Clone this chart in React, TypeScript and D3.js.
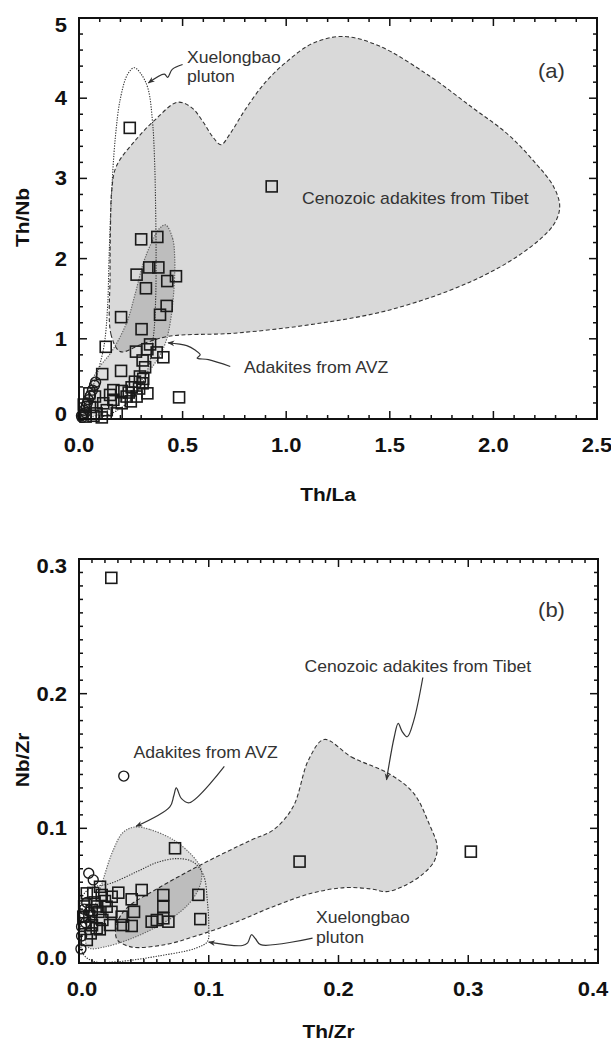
import { useEffect, useRef } from 'react';
import * as d3 from 'd3';

type Pt = [number, number];

// ---------- panel (a): Th/La vs Th/Nb ----------
const aXTicks = [0, 0.5, 1, 1.5, 2, 2.5];
const aYTicks = [0, 1, 2, 3, 4, 5];

// samples of this study (squares)
const aSquares: Pt[] = [
    [0.245, 3.63], [0.93, 2.9], [0.3, 2.24], [0.378, 2.27], [0.278, 1.8], [0.339, 1.89],
    [0.383, 1.89], [0.426, 1.72], [0.468, 1.78], [0.323, 1.63], [0.423, 1.41], [0.391, 1.3],
    [0.203, 1.27], [0.302, 1.12], [0.129, 0.9], [0.343, 0.93], [0.275, 0.84], [0.33, 0.87],
    [0.407, 0.77], [0.375, 0.83], [0.307, 0.73], [0.319, 0.645], [0.203, 0.6], [0.112, 0.56],
    [0.294, 0.53], [0.483, 0.27], [0.33, 0.32], [0.27, 0.465], [0.307, 0.445], [0.254, 0.395],
    [0.166, 0.36], [0.206, 0.35], [0.29, 0.38], [0.23, 0.28], [0.278, 0.28], [0.166, 0.24],
    [0.206, 0.196], [0.117, 0.196], [0.077, 0.28], [0.134, 0.11], [0.182, 0.07], [0.085, 0.07],
    [0.053, 0.15], [0.25, 0.22], [0.05, 0.32], [0.023, 0.18], [0.07, 0.04], [0.032, 0.03],
    [0.11, 0.02], [0.15, 0.3], [0.24, 0.33], [0.31, 0.5],
];
// Xuelongbao pluton (circles)
const aCircles: Pt[] = [
    [0.012, 0.04], [0.02, 0.07], [0.025, 0.11], [0.035, 0.16], [0.045, 0.24], [0.055, 0.29],
    [0.065, 0.36], [0.075, 0.42], [0.08, 0.46], [0.015, 0.02], [0.04, 0.2], [0.03, 0.08],
];
const aTibetField: Pt[] = [
    [0.2, 0.84], [0.155, 1.05], [0.15, 1.8], [0.152, 2.4], [0.158, 2.85], [0.18, 3.15],
    [0.277, 3.49], [0.371, 3.74], [0.475, 3.95], [0.545, 3.88], [0.6, 3.7], [0.645, 3.52],
    [0.685, 3.42], [0.73, 3.56], [0.8, 3.85], [0.9, 4.2], [1.0, 4.45], [1.125, 4.68],
    [1.275, 4.77], [1.45, 4.65], [1.69, 4.28], [1.9, 3.88], [2.07, 3.55], [2.2, 3.2],
    [2.29, 2.9], [2.32, 2.65], [2.29, 2.42], [2.14, 2.07], [1.88, 1.7], [1.5, 1.36],
    [1.125, 1.18], [0.75, 1.07], [0.43, 1.03], [0.3, 0.93],
];
const aAvzField: Pt[] = [
    [0.418, 2.42], [0.452, 2.25], [0.462, 2.0], [0.46, 1.7], [0.446, 1.3], [0.42, 0.97],
    [0.38, 0.75], [0.3, 0.48], [0.2, 0.22], [0.12, 0.08], [0.06, 0.025], [0.02, 0.012],
    [0.006, 0.05], [0.02, 0.22], [0.05, 0.42], [0.1, 0.65], [0.16, 0.85], [0.23, 1.2],
    [0.27, 1.55], [0.31, 1.94], [0.35, 2.2], [0.39, 2.38],
];
const aXuelongbaoField: Pt[] = [
    [0.02, 0.02], [0.04, 0.22], [0.08, 0.5], [0.12, 0.9], [0.138, 1.4], [0.145, 2.0],
    [0.155, 2.7], [0.175, 3.5], [0.2, 4.0], [0.235, 4.3], [0.267, 4.38], [0.3, 4.3],
    [0.333, 4.12], [0.355, 3.7], [0.365, 3.2], [0.37, 2.6], [0.372, 2.0], [0.37, 1.5],
    [0.36, 1.05], [0.33, 0.6], [0.27, 0.3], [0.18, 0.1], [0.1, 0.02], [0.05, 0.005],
];
const aArrows: Pt[][] = [
    [[0.5, 4.42], [0.45, 4.36], [0.428, 4.26], [0.412, 4.3], [0.335, 4.19]],
    [[0.73, 0.655], [0.625, 0.74], [0.57, 0.76], [0.585, 0.8], [0.56, 0.86], [0.52, 0.915], [0.43, 0.95]],
];
const aLabels = [
    { text: 'Xuelongbao', x: 0.521, y: 4.44, size: 16 },
    { text: 'pluton', x: 0.521, y: 4.2, size: 16 },
    { text: 'Cenozoic adakites from Tibet', x: 1.076, y: 2.68, size: 16 },
    { text: 'Adakites from AVZ', x: 0.796, y: 0.574, size: 16 },
    { text: '(a)', x: 2.215, y: 4.25, size: 20 },
];

// ---------- panel (b): Th/Zr vs Nb/Zr ----------
const bXTicks = [0, 0.1, 0.2, 0.3, 0.4];
const bYTicks = [0, 0.1, 0.2, 0.3];

const bSquares: Pt[] = [
    [0.0249, 0.286], [0.074, 0.0852], [0.17, 0.0753], [0.302, 0.0827], [0.092, 0.0506],
    [0.0935, 0.0326], [0.0483, 0.0542], [0.065, 0.0505], [0.0406, 0.0473], [0.0303, 0.0522],
    [0.0162, 0.0566], [0.065, 0.0418], [0.0424, 0.038], [0.0329, 0.0344], [0.0252, 0.0492],
    [0.0213, 0.0418], [0.06, 0.0319], [0.065, 0.0332], [0.0689, 0.0307], [0.056, 0.0307],
    [0.0406, 0.0275], [0.034, 0.0282], [0.0239, 0.0282], [0.0136, 0.0258], [0.006, 0.0171],
    [0.0046, 0.0295], [0.0033, 0.0344], [0.0098, 0.0393], [0.0175, 0.0505], [0.006, 0.0517],
    [0.012, 0.045], [0.015, 0.038], [0.008, 0.035], [0.018, 0.032], [0.01, 0.028],
    [0.014, 0.042], [0.02, 0.046], [0.004, 0.042], [0.011, 0.052], [0.025, 0.038],
    [0.009, 0.022], [0.016, 0.025],
];
const bCircles: Pt[] = [
    [0.0345, 0.1388], [0.0075, 0.0667], [0.011, 0.0617], [0.0015, 0.0105], [0.003, 0.0346],
    [0.002, 0.027], [0.004, 0.04], [0.006, 0.045], [0.002, 0.02], [0.008, 0.038], [0.005, 0.03],
];
const bTibetField: Pt[] = [
    [0.189, 0.166], [0.21, 0.153], [0.24, 0.14], [0.258, 0.126], [0.27, 0.103], [0.276, 0.087],
    [0.274, 0.076], [0.265, 0.066], [0.25, 0.057], [0.237, 0.053], [0.225, 0.055], [0.205, 0.056],
    [0.18, 0.052], [0.15, 0.042], [0.12, 0.03], [0.09, 0.02], [0.066, 0.0136], [0.04, 0.012],
    [0.029, 0.018], [0.03, 0.031], [0.037, 0.041], [0.06, 0.055], [0.096, 0.074], [0.132, 0.091],
    [0.15, 0.099], [0.165, 0.116], [0.177, 0.151],
];
const bAvzField: Pt[] = [
    [0.043, 0.101], [0.055, 0.099], [0.073, 0.0913], [0.088, 0.079], [0.094, 0.07], [0.094, 0.06],
    [0.088, 0.048], [0.078, 0.038], [0.06, 0.027], [0.04, 0.018], [0.02, 0.012], [0.008, 0.011],
    [0.005, 0.016], [0.01, 0.035], [0.018, 0.06], [0.026, 0.083], [0.034, 0.097],
];
const bXuelongbaoField: Pt[] = [
    [0.003, 0.05], [0.01, 0.056], [0.024, 0.059], [0.045, 0.068], [0.06, 0.0746], [0.075, 0.0775],
    [0.088, 0.075], [0.096, 0.065], [0.099, 0.045], [0.1, 0.028], [0.099, 0.016], [0.09, 0.011],
    [0.06, 0.005], [0.03, 0.001], [0.012, 0.001], [0.003, 0.007], [0.001, 0.025],
];
const bArrows: Pt[][] = [
    [[0.112, 0.146], [0.085, 0.119], [0.079, 0.122], [0.075, 0.13], [0.073, 0.124], [0.07, 0.116], [0.044, 0.1015]],
    [[0.265, 0.212], [0.258, 0.18], [0.253, 0.168], [0.249, 0.172], [0.246, 0.178], [0.243, 0.168], [0.237, 0.136]],
    [[0.18, 0.0185], [0.14, 0.0136], [0.136, 0.018], [0.133, 0.021], [0.13, 0.015], [0.126, 0.013], [0.1, 0.0155]],
];
const bLabels = [
    { text: 'Adakites from AVZ', x: 0.042, y: 0.1522, size: 16 },
    { text: 'Cenozoic adakites from Tibet', x: 0.1738, y: 0.216, size: 16 },
    { text: 'Xuelongbao', x: 0.1827, y: 0.0297, size: 16 },
    { text: 'pluton', x: 0.1827, y: 0.0148, size: 16 },
    { text: '(b)', x: 0.3538, y: 0.2569, size: 20 },
];

const FONT = "'Liberation Sans', Arial, sans-serif";
const STRETCH = 'scale(1.1,1)';

export default function App() {
    const svgRef = useRef<SVGSVGElement>(null);

    useEffect(() => {
        const svg = d3.select(svgRef.current);
        svg.selectAll('*').remove();

        const defs = svg.append('defs');
        defs.append('marker')
            .attr('id', 'arrowhead')
            .attr('viewBox', '0 0 10 10')
            .attr('refX', 9)
            .attr('refY', 5)
            .attr('markerWidth', 7)
            .attr('markerHeight', 7)
            .attr('markerUnits', 'userSpaceOnUse')
            .attr('orient', 'auto')
            .append('path')
            .attr('d', 'M0,1 L10,5 L0,9 L3,5 Z')
            .attr('fill', '#333');

        const panels = [
            {
                id: 'a', left: 79, right: 597, top: 18, bottom: 419,
                xDomain: [0, 2.5], yDomain: [0, 5],
                xTicks: aXTicks, yTicks: aYTicks, xMinor: 25, yMinor: 25,
                xFmt: d3.format('.1f'), yFmt: d3.format('d'),
                xTitle: 'Th/La', yTitle: 'Th/Nb', titleGap: 82, xEndNudge: [0, 0],
                tibet: aTibetField, avz: aAvzField, xue: aXuelongbaoField,
                squares: aSquares, circles: aCircles, arrows: aArrows, labels: aLabels,
            },
            {
                id: 'b', left: 79, right: 598, top: 559, bottom: 963,
                xDomain: [0, 0.4], yDomain: [0, 0.3],
                xTicks: bXTicks, yTicks: bYTicks, xMinor: 40, yMinor: 30,
                xFmt: d3.format('.1f'), yFmt: d3.format('.1f'),
                xTitle: 'Th/Zr', yTitle: 'Nb/Zr', titleGap: 75, xEndNudge: [3, -5],
                tibet: bTibetField, avz: bAvzField, xue: bXuelongbaoField,
                squares: bSquares, circles: bCircles, arrows: bArrows, labels: bLabels,
            },
        ];

        panels.forEach((p) => {
            const x = d3.scaleLinear().domain(p.xDomain).range([p.left, p.right]);
            const y = d3.scaleLinear().domain(p.yDomain).range([p.bottom, p.top]);
            const g = svg.append('g');

            defs.append('clipPath')
                .attr('id', `clip-${p.id}`)
                .append('rect')
                .attr('x', p.left)
                .attr('y', p.top)
                .attr('width', p.right - p.left)
                .attr('height', p.bottom - p.top);

            const closed = d3.line<Pt>()
                .x((d) => x(d[0]))
                .y((d) => y(d[1]))
                .curve(d3.curveCatmullRomClosed.alpha(0.5));
            const open = d3.line<Pt>()
                .x((d) => x(d[0]))
                .y((d) => y(d[1]))
                .curve(d3.curveCatmullRom.alpha(0.5));

            const fields = g.append('g').attr('clip-path', `url(#clip-${p.id})`);
            fields.append('path')
                .attr('d', closed(p.tibet))
                .attr('fill', '#000')
                .attr('fill-opacity', 0.15)
                .attr('stroke', '#333')
                .attr('stroke-width', 1.1)
                .attr('stroke-dasharray', '4,2.5');
            fields.append('path')
                .attr('d', closed(p.avz))
                .attr('fill', '#000')
                .attr('fill-opacity', 0.13)
                .attr('stroke', '#666')
                .attr('stroke-width', 1.2)
                .attr('stroke-dasharray', '1.3,1.3');
            fields.append('path')
                .attr('d', closed(p.xue))
                .attr('fill', 'none')
                .attr('stroke', '#333')
                .attr('stroke-width', 1.1)
                .attr('stroke-dasharray', '1.3,1.3');

            // annotation arrows
            g.selectAll('.arrow')
                .data(p.arrows)
                .enter()
                .append('path')
                .attr('d', (d) => open(d))
                .attr('fill', 'none')
                .attr('stroke', '#333')
                .attr('stroke-width', 1.2)
                .attr('marker-end', 'url(#arrowhead)');

            // samples
            const s = 11;
            g.selectAll('.sq')
                .data(p.squares)
                .enter()
                .append('rect')
                .attr('x', (d) => x(d[0]) - s / 2)
                .attr('y', (d) => y(d[1]) - s / 2)
                .attr('width', s)
                .attr('height', s)
                .attr('fill', 'none')
                .attr('stroke', '#1a1a1a')
                .attr('stroke-width', 1.6);
            g.selectAll('.ci')
                .data(p.circles)
                .enter()
                .append('circle')
                .attr('cx', (d) => x(d[0]))
                .attr('cy', (d) => y(d[1]))
                .attr('r', 5)
                .attr('fill', 'none')
                .attr('stroke', '#1a1a1a')
                .attr('stroke-width', 1.4);

            // frame
            g.append('rect')
                .attr('x', p.left)
                .attr('y', p.top)
                .attr('width', p.right - p.left)
                .attr('height', p.bottom - p.top)
                .attr('fill', 'none')
                .attr('stroke', '#111')
                .attr('stroke-width', 2);

            // inward ticks on all four sides
            const ticks = g.append('g').attr('stroke', '#111').attr('stroke-width', 1.5);
            const xMinor = x.ticks(p.xMinor);
            const yMinor = y.ticks(p.yMinor);
            const isMajor = (arr: number[], v: number) => arr.some((t) => Math.abs(t - v) < 1e-9);
            xMinor.forEach((v) => {
                const len = isMajor(p.xTicks, v) ? 8 : 4;
                ticks.append('line').attr('x1', x(v)).attr('x2', x(v)).attr('y1', p.bottom).attr('y2', p.bottom - len);
                ticks.append('line').attr('x1', x(v)).attr('x2', x(v)).attr('y1', p.top).attr('y2', p.top + len);
            });
            yMinor.forEach((v) => {
                const len = isMajor(p.yTicks, v) ? 8 : 4;
                ticks.append('line').attr('y1', y(v)).attr('y2', y(v)).attr('x1', p.left).attr('x2', p.left + len);
                ticks.append('line').attr('y1', y(v)).attr('y2', y(v)).attr('x1', p.right).attr('x2', p.right - len);
            });

            const text = (str: string, px: number, py: number, opts: any) => {
                return g.append('text')
                    .attr('transform', `translate(${px},${py}) ${opts.rotate ? 'rotate(-90)' : ''} ${STRETCH}`)
                    .attr('text-anchor', opts.anchor || 'start')
                    .attr('font-family', FONT)
                    .attr('font-size', opts.size)
                    .attr('font-weight', opts.bold ? 'bold' : 'normal')
                    .attr('fill', opts.fill || '#111')
                    .text(str);
            };

            // tick labels
            const xLast = p.xTicks.length - 1;
            p.xTicks.forEach((v, i) => {
                const nudge = i === 0 ? p.xEndNudge[0] : i === xLast ? p.xEndNudge[1] : 0;
                text(p.xFmt(v), x(v) + nudge, p.bottom + 33, { anchor: 'middle', size: 20, bold: true });
            });
            const yLast = p.yTicks.length - 1;
            p.yTicks.forEach((v, i) => {
                const nudge = i === 0 ? -5 : i === yLast ? 7 : 0;
                text(p.yFmt(v), 67, y(v) + 7 + nudge, { anchor: 'end', size: 20, bold: true });
            });

            // axis titles
            text(p.xTitle, (p.left + p.right) / 2 - 10, p.bottom + p.titleGap, { anchor: 'middle', size: 19, bold: true });
            text(p.yTitle, 29, (p.top + p.bottom) / 2 - 1, { anchor: 'middle', size: 19, bold: true, rotate: true });

            // field labels
            p.labels.forEach((l) => {
                text(l.text, x(l.x), y(l.y), { size: l.size, fill: '#333' });
            });
        });
    }, []);

    return (
        <div style={{ position: 'absolute', left: 0, top: 0, background: '#fff' }}>
            <svg ref={svgRef} width={611} height={1042} style={{ display: 'block' }} />
        </div>
    );
}
